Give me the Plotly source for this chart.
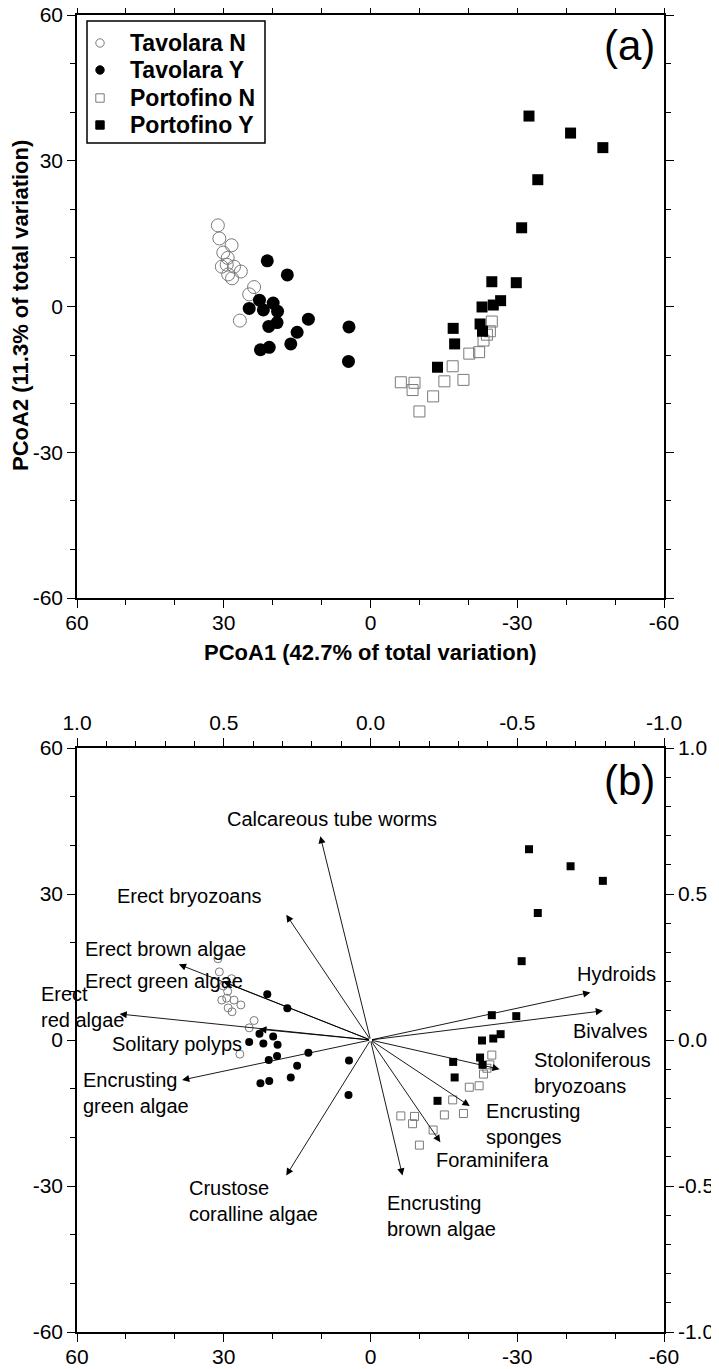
import plotly.graph_objects as go

# ---------------- data (PCoA scores) ----------------
tav_n_x = [31.2, 30.9, 28.4, 30.1, 29.2, 30.4, 29.4, 27.9, 26.5, 29.1, 28.3, 23.8, 24.8, 26.7]
tav_n_y = [16.7, 14.0, 12.6, 11.1, 10.0, 8.2, 8.6, 8.2, 7.2, 6.6, 5.8, 4.0, 2.5, -2.9]
tav_y_x = [21.1, 17.0, 22.7, 19.9, 24.8, 21.9, 19.0, 12.7, 19.1, 20.8, 4.4, 15.0, 16.3, 20.7, 22.5, 4.5]
tav_y_y = [9.4, 6.5, 1.3, 0.7, -0.4, -0.7, -1.0, -2.6, -3.3, -4.1, -4.2, -5.3, -7.7, -8.4, -8.9, -11.3]
por_n_x = [-24.8, -24.4, -23.1, -22.2, -20.2, -16.8, -19.0, -15.1, -6.2, -9.0, -8.6, -12.8, -10.0, -23.8]
por_n_y = [-3.1, -5.1, -7.0, -9.4, -9.7, -12.3, -15.1, -15.4, -15.6, -15.7, -17.2, -18.5, -21.6, -5.8]
por_y_x = [-32.4, -40.9, -47.5, -34.2, -30.9, -24.8, -29.8, -26.6, -25.1, -22.8, -22.4, -22.9, -16.9, -17.2, -13.7]
por_y_y = [39.2, 35.7, 32.7, 26.1, 16.2, 5.1, 4.9, 1.2, 0.3, -0.1, -3.6, -5.1, -4.5, -7.7, -12.5]

group_names = ["Tavolara N", "Tavolara Y", "Portofino N", "Portofino Y"]

# ---------------- vectors (correlations) ----------------
species = ["Calcareous tube worms", "Erect bryozoans", "Erect brown algae", "Erect green algae",
           "Erect<br>red algae", "Solitary polyps", "Encrusting<br>green algae",
           "Crustose<br>coralline algae", "Encrusting<br>brown algae", "Foraminifera",
           "Encrusting<br>sponges", "Stoloniferous<br>bryozoans", "Bivalves", "Hydroids"]
vec_x = [0.171, 0.287, 0.653, 0.502, 0.855, 0.379, 0.642, 0.287, -0.109, -0.238, -0.338, -0.440, -0.792, -0.749]
vec_y = [0.698, 0.429, 0.259, 0.200, 0.089, 0.037, -0.137, -0.464, -0.464, -0.350, -0.226, -0.100, 0.100, 0.163]

# label placement (layout only, in correlation units)
lab_x = [0.131, 0.615, 0.98, 0.98, 1.13, 0.430, 0.987, 0.625, -0.048, -0.215, -0.387, -0.549, -0.684, -0.698]
lab_y = [0.756, 0.492, 0.310, 0.203, 0.112, -0.014, -0.183, -0.553, -0.602, -0.410, -0.286, -0.112, 0.032, 0.226]
lab_anchor = ["center", "center", "left", "left", "left", "right", "left", "left", "left", "left",
              "left", "left", "left", "left"]

score_ticks = [60, 30, 0, -30, -60]
score_text = ["60", "30", "0", "-30", "-60"]
score_minor = [50, 40, 20, 10, -10, -20, -40, -50]
corr_ticks = [1.0, 0.5, 0.0, -0.5, -1.0]
corr_text = ["1.0", "0.5", "0.0", "-0.5", "-1.0"]
corr_minor = [0.9, 0.8, 0.7, 0.6, 0.4, 0.3, 0.2, 0.1, -0.1, -0.2, -0.3, -0.4, -0.6, -0.7, -0.8, -0.9]

FONT = "Liberation Sans, Arial, sans-serif"
OFF = 8                      # default page (body) margin
W, H = 719 - OFF, 1369 - OFF
GRAY = "#7a7a7a"


def px2x(px):
    return (px - OFF) / W


def px2y(py):
    return 1 - (py - OFF) / H


styles = [
    dict(symbol="circle-open", color=GRAY, line=dict(width=1, color=GRAY)),
    dict(symbol="circle", color="black"),
    dict(symbol="square-open", color=GRAY, line=dict(width=1, color=GRAY)),
    dict(symbol="square", color="black"),
]
xs = [tav_n_x, tav_y_x, por_n_x, por_y_x]
ys = [tav_n_y, tav_y_y, por_n_y, por_y_y]
size_a = [13, 13, 11, 11]
size_b = [8, 8, 8, 8]

fig = go.Figure()
for i in range(4):
    fig.add_trace(go.Scatter(x=xs[i], y=ys[i], mode="markers", name=group_names[i],
                             marker=dict(size=size_a[i], **styles[i]), showlegend=False,
                             xaxis="x", yaxis="y"))
for i in range(4):
    fig.add_trace(go.Scatter(x=xs[i], y=ys[i], mode="markers", name=group_names[i],
                             marker=dict(size=size_b[i], **styles[i]), showlegend=False,
                             xaxis="x2", yaxis="y2"))

x_dom = [px2x(77), px2x(664)]
ya_dom = [px2y(598), px2y(15)]
yb_dom = [px2y(1332), px2y(748)]

tickfont = dict(family=FONT, size=21, color="black")


def base_axis():
    return dict(autorange=False, tickmode="array",
                ticks="outside", ticklen=8, tickwidth=1.3, tickcolor="black",
                showline=True, linecolor="black", linewidth=1.5, showgrid=False, zeroline=False,
                tickfont=tickfont, fixedrange=True, automargin=False, ticklabeloverflow="allow")


def score_axis(rev=False, **kw):
    d = base_axis()
    d.update(range=[60, -60] if rev else [-60, 60], tickvals=score_ticks, ticktext=score_text,
             minor=dict(tickvals=score_minor, ticks="outside", ticklen=5, tickwidth=1.3, tickcolor="black"))
    d.update(kw)
    return d


def corr_axis(**kw):
    d = base_axis()
    d.update(range=[-1, 1], tickvals=corr_ticks, ticktext=corr_text,
             minor=dict(tickvals=corr_minor, ticks="outside", ticklen=5, tickwidth=1.3, tickcolor="black"))
    d.update(kw)
    return d


fig.update_layout(
    template="none",
    width=W, height=H, margin=dict(l=0, r=0, t=0, b=0, pad=0, autoexpand=False),
    paper_bgcolor="white", plot_bgcolor="white",
    font=dict(family=FONT, color="black"),
    xaxis=score_axis(rev=True, domain=x_dom, anchor="y", mirror="ticks", ticklabelstandoff=-3),
    yaxis=score_axis(domain=ya_dom, anchor="x", mirror="ticks"),
    xaxis2=score_axis(rev=True, domain=x_dom, anchor="y2", ticklabelstandoff=-3),
    yaxis2=score_axis(domain=yb_dom, anchor="x2"),
    xaxis3=corr_axis(range=[1, -1], overlaying="x2", side="top", anchor="y2"),
    yaxis3=corr_axis(overlaying="y2", side="right", anchor="x2"),
    showlegend=False,
)


def to_paper_x(v):
    return x_dom[0] + (1 - v) / 2 * (x_dom[1] - x_dom[0])


def to_paper_y(v):
    return yb_dom[0] + (v + 1) / 2 * (yb_dom[1] - yb_dom[0])


anns = []
for i in range(len(species)):
    anns.append(dict(x=vec_x[i], y=vec_y[i], ax=0, ay=0, xref="x3", yref="y3", axref="x3", ayref="y3",
                     text="", showarrow=True, arrowhead=2, arrowsize=1.6, arrowwidth=0.9,
                     arrowcolor="black", standoff=0, startstandoff=0))
    anns.append(dict(x=to_paper_x(lab_x[i]), y=to_paper_y(lab_y[i]), xref="paper", yref="paper",
                     text=species[i], showarrow=False,
                     xanchor=lab_anchor[i], yanchor="middle", align="left",
                     font=dict(family=FONT, size=20, color="black")))

anns.append(dict(x=px2x(657), y=px2y(45), xref="paper", yref="paper", text="(a)", showarrow=False,
                 xanchor="right", yanchor="middle", font=dict(family=FONT, size=42, color="black")))
anns.append(dict(x=px2x(657), y=px2y(780), xref="paper", yref="paper", text="(b)", showarrow=False,
                 xanchor="right", yanchor="middle", font=dict(family=FONT, size=42, color="black")))
anns.append(dict(x=px2x(370.5), y=px2y(652), xref="paper", yref="paper",
                 text="<b>PCoA1 (42.7% of total variation)</b>", showarrow=False,
                 xanchor="center", yanchor="middle", font=dict(family=FONT, size=22, color="black")))
anns.append(dict(x=px2x(20), y=px2y(306), xref="paper", yref="paper", textangle=-90,
                 text="<b>PCoA2 (11.3% of total variation)</b>", showarrow=False,
                 xanchor="center", yanchor="middle", font=dict(family=FONT, size=22, color="black")))

# ---------------- legend (drawn as box + symbols + text) ----------------
shapes = [dict(type="rect", xref="paper", yref="paper", x0=px2x(87), x1=px2x(265), y0=px2y(143), y1=px2y(21),
               line=dict(color="black", width=1.5), fillcolor="white", layer="above")]
row_y = [43, 70, 98, 125]
leg_style = [
    dict(kind="circle", fill="white", line=GRAY),
    dict(kind="circle", fill="black", line="black"),
    dict(kind="rect", fill="white", line=GRAY),
    dict(kind="rect", fill="black", line="black"),
]
r = 4.2
for i in range(4):
    st = leg_style[i]
    shapes.append(dict(type=st["kind"], xref="paper", yref="paper",
                       x0=px2x(100 - r), x1=px2x(100 + r), y0=px2y(row_y[i] + r), y1=px2y(row_y[i] - r),
                       line=dict(color=st["line"], width=1), fillcolor=st["fill"], layer="above"))
    anns.append(dict(x=px2x(128), y=px2y(row_y[i]), xref="paper", yref="paper",
                     text="<b>" + group_names[i] + "</b>", showarrow=False,
                     xanchor="left", yanchor="middle", font=dict(family=FONT, size=23, color="black")))

fig.update_layout(annotations=anns, shapes=shapes)

fig.write_html("out.html")
